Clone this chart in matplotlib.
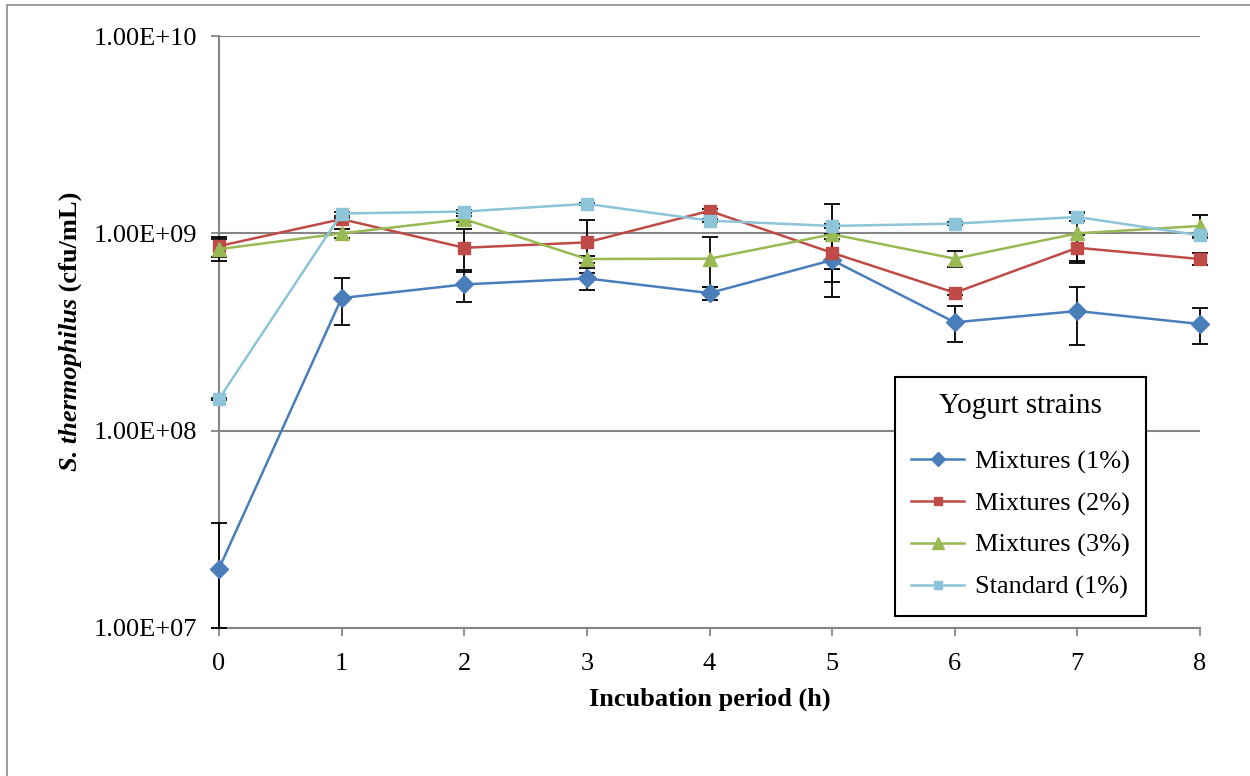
import matplotlib
matplotlib.use('Agg')
import matplotlib.pyplot as plt
from matplotlib.patches import Rectangle
from matplotlib.ticker import FuncFormatter, FixedLocator, NullLocator
from matplotlib.lines import Line2D

plt.rcParams['font.family'] = ['Liberation Serif', 'DejaVu Serif']

hours = [0, 1, 2, 3, 4, 5, 6, 7, 8]
names = ['Mixtures (1%)', 'Mixtures (2%)', 'Mixtures (3%)', 'Standard (1%)']

mix1 = [2.0e7, 4.70e8, 5.51e8, 5.91e8, 4.98e8, 7.32e8, 3.54e8, 4.04e8, 3.47e8]
mix2 = [8.62e8, 1.18e9, 8.45e8, 9.0e8, 1.30e9, 7.97e8, 5.0e8, 8.45e8, 7.41e8]
mix3 = [8.32e8, 1.0e9, 1.18e9, 7.41e8, 7.44e8, 9.89e8, 7.44e8, 1.0e9, 1.09e9]
std1 = [1.45e8, 1.26e9, 1.29e9, 1.41e9, 1.16e9, 1.09e9, 1.12e9, 1.21e9, 9.77e8]

err1 = [1.4e7, 1.25e8, 1.04e8, 7.5e7, 3.6e7, 2.58e8, 7.4e7, 1.32e8, 7.3e7]
err2 = [1.0e8, 2.0e7, 2.05e8, 2.68e8, 3.0e7, 1.4e8, 1.5e7, 1.4e8, 5.0e7]
err3 = [1.05e8, 5.0e7, 4.0e7, 3.0e7, 2.1e8, 4.2e8, 7.2e7, 2.8e8, 1.47e8]
errs = [2.0e6, 3.0e7, 2.0e7, 2.0e7, 2.0e7, 2.0e7, 2.0e7, 6.0e7, 2.0e7]

series = [mix1, mix2, mix3, std1]
errors = [err1, err2, err3, errs]
colors = ['#4A7EBB', '#BE4B48', '#98B954', '#8DC4D8']
markers = ['D', 's', '^', 's']
msizes = [9, 8, 10, 8]

fig = plt.figure(figsize=(12.5, 7.76), dpi=100)
ax = fig.add_axes([219/1250, 1-628/776, 981/1250, 592/776])
ymin, ymax = 1e7, 1e10

for vals, err, c, m, ms, n in zip(series, errors, colors, markers, msizes, names):
    # lower whisker stops at the axis floor (Excel clips it there)
    lo = [min(e, v - ymin) for v, e in zip(vals, err)]
    _, caps, bars = ax.errorbar(hours, vals, yerr=[lo, err], fmt='none', ecolor='black',
                                elinewidth=1.3, capsize=6, capthick=1.3, zorder=2.7)
    for cl in caps:
        cl.set_clip_on(False)
    for b in bars:
        b.set_clip_on(False)
    ax.plot(hours, vals, color=c, marker=m, markersize=ms, lw=1.8,
            markeredgecolor=c, label=n, zorder=3, clip_on=False)

ax.set_yscale('log')
ax.set_ylim(ymin, ymax)
ax.set_xlim(0, 8)
ax.yaxis.set_major_locator(FixedLocator([1e7, 1e8, 1e9, 1e10]))
ax.yaxis.set_minor_locator(NullLocator())
ax.yaxis.set_major_formatter(FuncFormatter(lambda v, p: f'{v:.2E}'))
ax.set_xticks(hours)
ax.grid(axis='y', color='#868686', lw=1.5, zorder=0)
ax.set_axisbelow(True)
for s in ['top', 'right']:
    ax.spines[s].set_visible(False)
for s in ['left', 'bottom']:
    ax.spines[s].set_color('#868686')
    ax.spines[s].set_linewidth(1.5)
ax.tick_params(axis='both', direction='out', length=6, width=1.3, color='#868686',
               labelsize=19)
ax.tick_params(axis='y', pad=10)
ax.tick_params(axis='x', pad=12)

ax.set_xlabel('Incubation period (h)', fontsize=19, fontweight='bold', labelpad=9)

# y label: italic species name followed by upright unit
t1 = fig.text(70/1250, 1-471/776, 'S. thermophilus', rotation=90, fontsize=19,
              fontweight='bold', fontstyle='italic', ha='center', va='bottom')
ax.annotate(' (cfu/mL)', xy=(0.5, 1), xycoords=t1, rotation=90, fontsize=19,
            fontweight='bold', ha='center', va='bottom', annotation_clip=False)

handles = [Line2D([], [], color=c, marker=m, markersize=ms - 2, lw=1.8)
           for c, m, ms in zip(colors, markers, msizes)]
leg = ax.legend(handles, names, title='Yogurt strains', loc='upper left',
                bbox_to_anchor=(895/1250, 1-377/776), bbox_transform=fig.transFigure,
                fontsize=19, title_fontsize=21, frameon=True, fancybox=False,
                edgecolor='black', framealpha=1, handlelength=2.0, handletextpad=0.4,
                labelspacing=0.68, borderpad=0.62, borderaxespad=0)
leg.get_frame().set_linewidth(1.5)
leg._legend_box.sep = 22

fig.patches.append(Rectangle((7/1250, -0.1), 1.2, 1.1 - 5/776,
                             transform=fig.transFigure, fill=False,
                             edgecolor='#8c8c8c', lw=1.2))

plt.savefig('out.png', dpi=100)
